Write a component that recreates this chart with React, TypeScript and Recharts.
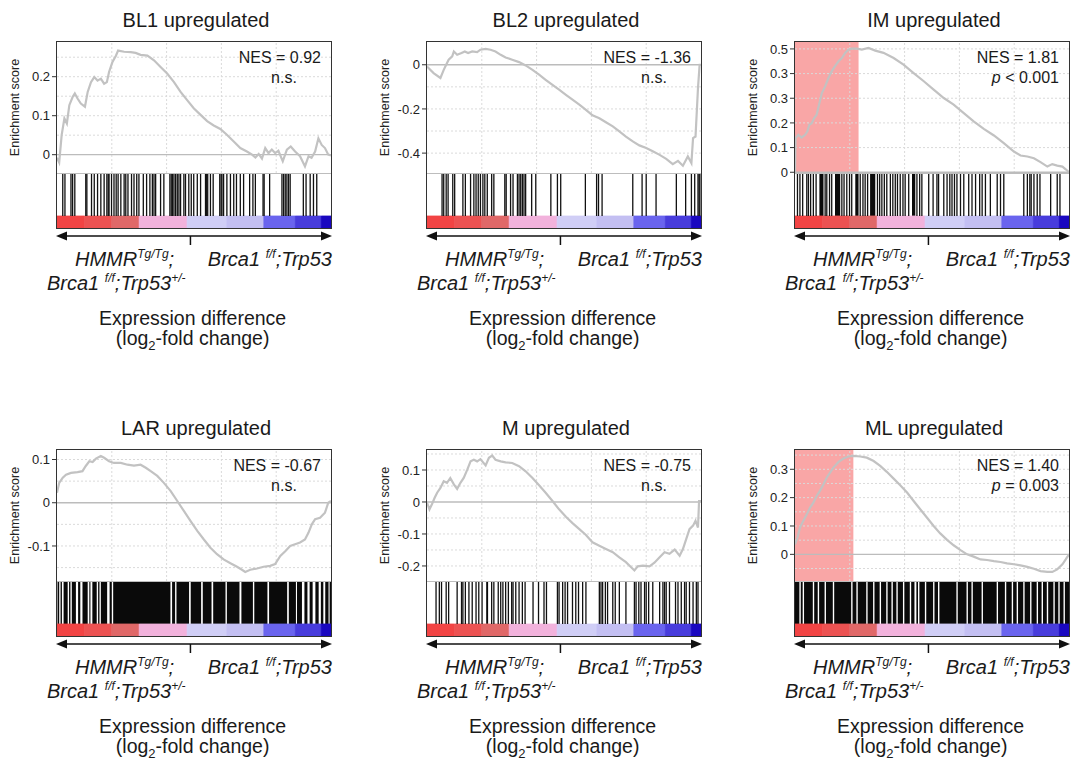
import React from "react";
import {
  ComposedChart,
  Line,
  XAxis,
  YAxis,
  ReferenceLine,
  ReferenceArea,
} from "recharts";

type Hit = number | [number, number];

// ---------- data (rank in % of the ranked gene list, enrichment score) ----------
const titles = [
  "BL1 upregulated",
  "BL2 upregulated",
  "IM upregulated",
  "LAR upregulated",
  "M upregulated",
  "ML upregulated",
];
const nesLabels = ["NES = 0.92", "NES = -1.36", "NES = 1.81", "NES = -0.67", "NES = -0.75", "NES = 1.40"];
const sigLabels = ["n.s.", "n.s.", "p < 0.001", "n.s.", "n.s.", "p = 0.003"];

const bl1Curve = [
  [0, -0.008], [0.8, -0.02], [1.7, 0.05], [2.7, 0.093], [3.6, 0.08], [4.5, 0.127], [5.7, 0.148],
  [6.5, 0.157], [7.5, 0.144], [8.7, 0.131], [10.2, 0.123], [11.2, 0.161], [12.4, 0.186], [13.6, 0.199],
  [14.8, 0.19], [16, 0.195], [17.2, 0.182], [18.2, 0.186], [19, 0.212], [20.2, 0.237], [21.5, 0.254],
  [22.3, 0.267], [24.5, 0.264], [26.9, 0.263], [28.7, 0.261], [30.5, 0.256], [33, 0.254], [35.4, 0.242],
  [37.8, 0.225], [40.2, 0.208], [42.7, 0.186], [45.1, 0.161], [47.5, 0.14], [49.9, 0.119], [52.4, 0.102],
  [54.8, 0.086], [57.2, 0.075], [59.6, 0.066], [62, 0.051], [64.5, 0.034], [66.9, 0.017], [69.3, 0.008],
  [71.2, 0], [72.4, -0.007], [73.6, 0.002], [74.8, -0.01], [76, 0.017], [77.2, 0.004], [78.4, 0.013],
  [79.6, 0.004], [80.8, 0.01], [82.4, -0.017], [83.9, 0.013], [85.3, 0.021], [86.9, 0.008], [88.7, -0.004],
  [90.5, -0.03], [91.8, -0.004], [92.9, -0.008], [94.2, 0.008], [95.4, 0.042], [96.6, 0.025], [97.8, 0.017],
  [99, 0], [100, -0.002],
];
const bl2Curve = [
  [0, -0.008], [2.4, -0.038], [4.9, -0.06], [6.1, -0.023], [7, 0], [7.9, 0.023], [9.2, 0.038], [9.8, 0.06],
  [11, 0.045], [12.6, 0.053], [13.8, 0.06], [15, 0.053], [16.5, 0.06], [18.3, 0.057], [19.5, 0.068],
  [21.4, 0.072], [23.2, 0.068], [25, 0.06], [26.9, 0.045], [28.7, 0.033], [31.1, 0.023], [33.6, 0.012],
  [36, -0.003], [38.5, -0.023], [40.9, -0.045], [43.3, -0.068], [45.8, -0.091], [48.2, -0.113],
  [50.7, -0.136], [53.1, -0.158], [55.6, -0.181], [58, -0.204], [60.4, -0.229], [62.9, -0.242],
  [65.3, -0.26], [67.8, -0.279], [70.2, -0.302], [72.6, -0.325], [75.1, -0.347], [77.5, -0.365],
  [80, -0.377], [82.4, -0.392], [84.9, -0.408], [87.3, -0.426], [89.7, -0.45], [91.6, -0.435],
  [93.4, -0.457], [95.2, -0.415], [96.5, -0.445], [97.1, -0.332], [98, -0.325], [98.9, -0.106],
  [99.5, 0], [100, 0],
];
const imCurve = [
  [0, 0], [0.2, 0.138], [1.2, 0.152], [2.4, 0.141], [3.7, 0.152], [4.5, 0.165], [5.2, 0.192], [6.1, 0.199],
  [7, 0.22], [7.9, 0.233], [8.9, 0.28], [9.8, 0.321], [11, 0.348], [12.2, 0.382], [13.4, 0.409],
  [14.6, 0.43], [15.9, 0.45], [17.1, 0.463], [18.3, 0.484], [19.5, 0.497], [20.7, 0.501], [22.6, 0.501],
  [24.4, 0.497], [26.8, 0.504], [29.3, 0.493], [32.3, 0.484], [36, 0.463], [39.6, 0.436], [43.3, 0.402],
  [47, 0.369], [50.6, 0.335], [54.3, 0.301], [57.9, 0.274], [61.6, 0.24], [65.2, 0.206], [68.9, 0.176],
  [72.6, 0.149], [76.2, 0.118], [79.9, 0.084], [82.3, 0.068], [84.8, 0.064], [87.2, 0.057], [89.6, 0.041],
  [92.1, 0.023], [93.9, 0.033], [95.7, 0.027], [97.6, 0.023], [98.8, 0.012], [100, 0],
];
const larCurve = [
  [0, 0.023], [0.8, 0.046], [2.1, 0.058], [3.3, 0.065], [5.1, 0.069], [7.5, 0.071], [9.3, 0.073],
  [10.5, 0.085], [11.8, 0.096], [13, 0.094], [14.2, 0.102], [16, 0.108], [17.2, 0.104], [19, 0.096],
  [20.8, 0.092], [23.3, 0.092], [25.7, 0.088], [28.1, 0.086], [30.5, 0.088], [32.4, 0.081], [34.2, 0.073],
  [36.6, 0.062], [39, 0.046], [41.5, 0.027], [43.9, 0.004], [46.3, -0.019], [48.7, -0.042], [51.2, -0.065],
  [53.6, -0.085], [56, -0.104], [58.4, -0.119], [60.8, -0.131], [63.3, -0.14], [65.7, -0.148],
  [67.5, -0.155], [68.7, -0.16], [70.5, -0.155], [73, -0.152], [75.4, -0.148], [77.8, -0.146],
  [79.6, -0.142], [81.5, -0.123], [83.3, -0.112], [85.1, -0.1], [86.9, -0.096], [88.7, -0.092],
  [90.5, -0.085], [91.8, -0.069], [93, -0.05], [94.2, -0.038], [96, -0.035], [97.8, -0.023], [99, 0],
  [100, 0.004],
];
const mCurve = [
  [0, -0.002], [0.9, -0.023], [1.8, -0.007], [2.8, 0.013], [3.7, 0.029], [4.9, 0.044], [6.1, 0.065],
  [7.3, 0.06], [8.5, 0.075], [9.8, 0.055], [11, 0.041], [12.2, 0.06], [13.4, 0.075], [14.7, 0.101],
  [15.9, 0.127], [17.1, 0.132], [18.3, 0.127], [19.5, 0.134], [21.4, 0.114], [22.6, 0.138], [23.8, 0.145],
  [25, 0.132], [26.9, 0.127], [28.7, 0.124], [31.1, 0.122], [33.6, 0.112], [36, 0.096], [38.5, 0.075],
  [40.9, 0.052], [43.3, 0.029], [45.8, 0.003], [48.2, -0.023], [50.7, -0.046], [53.1, -0.066],
  [55.6, -0.085], [58, -0.103], [60.4, -0.126], [62.9, -0.137], [65.3, -0.147], [67.8, -0.157],
  [70.2, -0.173], [72.6, -0.188], [74.5, -0.204], [75.7, -0.214], [76.9, -0.201], [78.8, -0.199],
  [81.2, -0.201], [83, -0.19], [84.9, -0.173], [86.7, -0.157], [88.5, -0.162], [90.4, -0.149],
  [92.2, -0.168], [93.4, -0.147], [94.6, -0.116], [95.8, -0.085], [97.1, -0.074], [98, -0.059],
  [98.9, -0.08], [99.3, 0.003], [100, 0.003],
];
const mlCurve = [
  [0, 0.035], [0.9, 0.059], [1.8, 0.094], [3, 0.118], [4.3, 0.141], [5.5, 0.165], [6.7, 0.182], [7.9, 0.206],
  [9.1, 0.224], [10.4, 0.247], [11.6, 0.271], [12.8, 0.288], [14, 0.306], [15.9, 0.326], [17.7, 0.338],
  [19.5, 0.345], [21.3, 0.347], [23.8, 0.345], [26.2, 0.341], [28.7, 0.329], [31.1, 0.312], [33.5, 0.291],
  [36, 0.267], [38.4, 0.244], [40.9, 0.218], [43.3, 0.188], [45.7, 0.159], [48.2, 0.129], [50.6, 0.1],
  [53, 0.074], [55.5, 0.051], [57.9, 0.032], [60.4, 0.015], [62.8, 0], [65.2, -0.008], [67.7, -0.018],
  [70.1, -0.02], [72.6, -0.024], [75, -0.027], [77.4, -0.032], [79.9, -0.035], [82.3, -0.039],
  [84.8, -0.044], [87.2, -0.051], [89.6, -0.059], [92.1, -0.062], [93.9, -0.062], [95.7, -0.053],
  [97.6, -0.035], [98.8, -0.018], [100, 0],
];

// gene-set members along the ranked list (single hits, or [from, to] runs of hits)
const bl1Hits: Hit[] = [
  2.1, 2.9, 5.1, 5.7, 6.5, 10.5, 10.9, 12.6, 13.6, 14.8, 16, 17.2, 18.2, 18.7, 19, 19.9, 20.8, 21.6, 22.3,
  23.3, 24.5, 25.1, 25.9, 27.2, 28.1, 29.1, 29.9, 31.5, 32.7, 33.9, 34.8, 35.4, 36, 37.8, 39, 41.2, 41.7,
  42.2, 42.7, 43.3, 43.9, 44.5, 45.1, 46.3, 46.9, 48.1, 49, 49.9, 51.2, 52.4, 54.2, 54.5, 55, 56, 57, 59.4,
  59.9, 60.2, 60.8, 62, 63.3, 64.5, 65.5, 66.9, 68.1, 70.3, 71.5, 72.4, 75.2, 75.6, 77.6, 82.1, 82.7, 83.3,
  83.9, 84.5, 85.1, 89.9, 90.9, 92.4, 93.6, 94.8,
];
const bl2Hits: Hit[] = [
  5.5, 6.1, 7, 7.7, 9.4, 10.1, 13.1, 14, 15.9, 17.1, 17.9, 18.7, 19.5, 20.4, 21.1, 22, 23.6, 24.4, 28.4,
  28.9, 30.5, 31.4, 33, 33.6, 34.2, 34.8, 35.4, 36, 38.2, 39.7, 45.2, 47.6, 48.8, 57.8, 61.9, 62.6, 63.9,
  75.1, 78.5, 80, 83.6, 91, 94.4, 96.5, 97.7, 98.9, 99.3, 99.6,
];
const imHits: Hit[] = [
  0.9, 1.8, 2.8, 4.3, 4.9, 5.7, 6.7, 7.7, [8.9, 10.4], 11, 11.6, 12.6, 13.4, [14.6, 16.5], 17.1, 17.9, 18.9,
  19.9, 20.7, [22, 23.2], 23.8, 24.8, 25.6, 26.5, [27.4, 29.3], 30.1, 30.9, 31.7, 32.6, 33.5, 34.8, 35.7,
  36.6, 37.4, 38.4, 39.4, 40.2, 41.5, [42.7, 43.9], 44.5, 45.5, 46.3, 48.8, 50.4, 51.8, 52.4, 54.3, 55.5,
  56.5, 57.3, 58.2, 59.1, 60.4, 61.6, 63.4, 64.6, 65.9, 67.4, 68.3, 69.5, 71.3, 73.8, 75, 76.2, 83.5, 84.8,
  85.7, 86.2, 87.2, 88.4, 89.4, 93.3, 95.7, 96.7,
];
const larHits: Hit[] = [
  [0.2, 0.8], [1.3, 1.8], [2.4, 3.9], [4.4, 4.9], [5.4, 6.9], [7.7, 8.5], [9.3, 11.2], [11.8, 12.2],
  [12.9, 14.5], [15, 15.5], [16, 18.3], [19.2, 20], [20.5, 41.4], [42, 43.1], [43.6, 48.2], [48.8, 52.6],
  [53.2, 56.4], [57, 61.5], [62, 66.6], [67.3, 71.5], [72, 76.8], [77.4, 84], [84.6, 87.2], [87.6, 89.4],
  [90.3, 91.4], [92.2, 93.3], [94.3, 95.5], [96.3, 97.2], [97.9, 99.1], [99.5, 100],
];
const mHits: Hit[] = [
  3.3, 4.5, 5.3, 7, 7.9, 11, 12.6, 13.1, 14, 15.3, 16.5, 17.9, 18.9, 20.1, [21.6, 22.3], 23.6, 24.4, 26,
  26.9, 27.7, 28.7, 29.7, 30.9, 31.4, 32.4, 33.6, 34.8, 35.8, 38.7, 40.7, 42.7, 43.6, 47.6, 48.2, 49.5,
  50.4, 51.3, 53.1, 54.3, 55.3, 56.8, 58, 62.9, 63.5, 64.1, 65.1, 65.9, 67.8, 68.7, 70.2, 72.6, 75.7, 76.3,
  77.3, 78.1, 79.4, 80, 80.9, 82.4, 84.9, 86.1, 86.7, 87.3, 88.5, 90.7, 91.6, 92.8, 94, 94.6, 95.8, 97.1,
  98.3, 98.9,
];
const mlHits: Hit[] = [
  [0, 1.6], [2.1, 2.8], [3.3, 6.5], [7, 8.3], [8.8, 10.8], [11.3, 13.8], [14.3, 20.5], [21, 22.4],
  [22.9, 26], [26.5, 28.5], [29, 30.9], [31.4, 33.3], [33.8, 35.2], [35.7, 37], [37.5, 39.4], [39.9, 41.9],
  [42.4, 43.6], [44.3, 44.9], [45.4, 47.4], [47.9, 50.4], [50.9, 52.2], [52.7, 58.9], [59.4, 62.6],
  [63.1, 64.4], [64.9, 68.1], [68.6, 73.6], [74.1, 76.6], [77.1, 79.1], [79.6, 80.9], [81.4, 83.3],
  [83.8, 85.8], [86.3, 88.2], [88.7, 90], [90.5, 91.9], [92.4, 94.3], [94.8, 96.1], [96.6, 98], [98.5, 100],
];

// y axes
const bl1Ticks = [0, 0.1, 0.2];
const bl2Ticks = [-0.4, -0.2, 0];
const imTicks = [0, 0.1, 0.2, 0.3, 0.4, 0.5];
const imTickLabels = ["0", "0.1", "0.2", "0.3", "0.3", "0.5"];
const larTicks = [-0.1, 0, 0.1];
const mTicks = [-0.2, -0.1, 0, 0.1];
const mlTicks = [0, 0.1, 0.2, 0.3];

const bl1Grid = [-0.05, 0.05, 0.1, 0.15, 0.2, 0.25];
const bl2Grid = [-0.1, -0.2, -0.3, -0.4];
const imGrid = [0.1, 0.2, 0.3, 0.4, 0.5];
const larGrid = [-0.15, -0.1, -0.05, 0.05, 0.1];
const mGrid = [-0.2, -0.15, -0.1, -0.05, 0.05, 0.1, 0.15];
const mlGrid = [-0.05, 0.05, 0.1, 0.15, 0.2, 0.25, 0.3, 0.35];

// leading edge (rank %) for the significant sets
const imLeadingEdge = 23.2;
const mlLeadingEdge = 21.3;

// ranked-list colour bar: band edges in rank %
const bandEdges = [0, 10, 20, 30, 47.5, 62, 75.5, 87, 96.5, 100];

// ---------- styles / layout ----------
const FONT = '"Liberation Sans", Arial, Helvetica, sans-serif';
const BAND_COLORS = ["#f24444", "#ec5252", "#e06868", "#f2b2dc", "#d0cef6", "#c3bff2", "#6a64ee", "#483cdc", "#1a08c0"];
const BOX_W = 274;
const ES_H = 131;
const STRIP_H = 55;
const BAR_FRAC = 12 / 55;
const AXIS_W = 57;
const GRID_X = [20, 40, 60, 80];
const BOXES = [
  { left: 57, top: 42 },
  { left: 427, top: 42 },
  { left: 795, top: 42 },
  { left: 57, top: 450 },
  { left: 427, top: 450 },
  { left: 795, top: 450 },
];

const panels = [
  { curve: bl1Curve, hits: bl1Hits, domain: [-0.047, 0.289], ticks: bl1Ticks, labels: null, grid: bl1Grid, edge: null },
  { curve: bl2Curve, hits: bl2Hits, domain: [-0.49, 0.103], ticks: bl2Ticks, labels: null, grid: bl2Grid, edge: null },
  { curve: imCurve, hits: imHits, domain: [-0.003, 0.528], ticks: imTicks, labels: imTickLabels, grid: imGrid, edge: imLeadingEdge },
  { curve: larCurve, hits: larHits, domain: [-0.181, 0.122], ticks: larTicks, labels: null, grid: larGrid, edge: null },
  { curve: mCurve, hits: mHits, domain: [-0.247, 0.1625], ticks: mTicks, labels: null, grid: mGrid, edge: null },
  { curve: mlCurve, hits: mlHits, domain: [-0.094, 0.368], ticks: mlTicks, labels: null, grid: mlGrid, edge: mlLeadingEdge },
];

const stripData = [
  { x: 0, y: 0 },
  { x: 100, y: 1 },
];

const fmt = (v: number) => (v === 0 ? "0" : String(v));

function GseaPanel({ idx }: { idx: number }) {
  const p = panels[idx];
  const { left, top } = BOXES[idx];
  const data = p.curve.map(([x, es]) => ({ x, es }));
  const [lo, hi] = p.domain;

  return (
    <>
      <div style={{ position: "absolute", left: left - AXIS_W, top }}>
        <ComposedChart
          width={BOX_W + AXIS_W}
          height={ES_H}
          data={data}
          margin={{ top: 0, right: 0, bottom: 0, left: 0 }}
        >
          <XAxis dataKey="x" type="number" domain={[0, 100]} hide allowDataOverflow />
          <YAxis
            type="number"
            domain={[lo, hi]}
            allowDataOverflow
            ticks={p.ticks}
            interval={0}
            width={AXIS_W}
            axisLine={false}
            tickSize={5}
            tickLine={{ stroke: "#333" }}
            tick={{ fontSize: 13, fill: "#222", fontFamily: FONT }}
            tickFormatter={(v: number) =>
              p.labels ? p.labels[p.ticks.indexOf(v)] : fmt(v)
            }
            label={{
              value: "Enrichment score",
              angle: -90,
              position: "insideLeft",
              offset: 15,
              style: { textAnchor: "middle", fontSize: 12.5, fill: "#222", fontFamily: FONT },
            }}
          />
          {p.grid.map((v) => (
            <ReferenceLine key={"gy" + v} y={v} stroke="#dadada" strokeDasharray="2 2" />
          ))}
          {GRID_X.map((v) => (
            <ReferenceLine key={"gx" + v} x={v} stroke="#dadada" strokeDasharray="2 2" />
          ))}
          <ReferenceLine y={0} stroke="#bcbcbc" strokeWidth={1.3} />
          {p.edge != null && (
            <ReferenceArea
              x1={0}
              x2={p.edge}
              y1={lo}
              y2={hi}
              fill="#f9a6a6"
              fillOpacity={1}
              stroke="none"
            />
          )}
          <Line
            dataKey="es"
            type="linear"
            stroke="#c2c2c2"
            strokeWidth={2.2}
            dot={false}
            isAnimationActive={false}
          />
        </ComposedChart>
      </div>

      <div style={{ position: "absolute", left, top: top + ES_H }}>
        <ComposedChart
          width={BOX_W}
          height={STRIP_H}
          data={stripData}
          margin={{ top: 0, right: 0, bottom: 0, left: 0 }}
        >
          <XAxis dataKey="x" type="number" domain={[0, 100]} hide />
          <YAxis type="number" domain={[0, 1]} hide />
          <Line dataKey="y" stroke="none" dot={false} isAnimationActive={false} />
          {p.hits.map((h, i) =>
            typeof h === "number" ? (
              <ReferenceLine
                key={"h" + i}
                segment={[
                  { x: h, y: BAR_FRAC },
                  { x: h, y: 1 },
                ]}
                stroke="#111"
                strokeWidth={1.3}
              />
            ) : (
              <ReferenceArea
                key={"h" + i}
                x1={h[0]}
                x2={h[1]}
                y1={BAR_FRAC}
                y2={1}
                fill="#0a0a0a"
                fillOpacity={1}
                stroke="none"
              />
            )
          )}
          {BAND_COLORS.map((c, i) => (
            <ReferenceArea
              key={"b" + i}
              x1={bandEdges[i]}
              x2={bandEdges[i + 1]}
              y1={0}
              y2={BAR_FRAC}
              fill={c}
              fillOpacity={1}
              stroke={c}
              strokeWidth={0.8}
            />
          ))}
        </ComposedChart>
      </div>

      {/* separator and frame */}
      <div
        style={{
          position: "absolute",
          left,
          top: top + ES_H,
          width: BOX_W,
          height: 1,
          background: "#bdbdbd",
        }}
      />
      <div
        style={{
          position: "absolute",
          left: left - 1,
          top: top - 1,
          width: BOX_W + 2,
          height: ES_H + STRIP_H + 2,
          border: "1.5px solid #333",
          boxSizing: "border-box",
        }}
      />
    </>
  );
}

function PanelText({ idx }: { idx: number }) {
  const { left, top } = BOXES[idx];
  const right = left + BOX_W;
  const bottom = top + ES_H + STRIP_H;
  const sig = sigLabels[idx];
  const ay = bottom + 8;
  const tx = left + BOX_W * 0.487;
  const isP = sig.startsWith("p");
  return (
    <g fontFamily={FONT} fill="#1a1a1a">
      <text x={left + BOX_W / 2 + 2} y={top - 15} fontSize={20} textAnchor="middle">
        {titles[idx]}
      </text>
      <text x={right - 10} y={top + 21} fontSize={16} textAnchor="end">
        {nesLabels[idx]}
      </text>
      {isP ? (
        <text x={right - 10} y={top + 41} fontSize={16} textAnchor="end">
          <tspan fontStyle="italic">p</tspan>
          {sig.slice(1)}
        </text>
      ) : (
        <text x={right - 47} y={top + 41} fontSize={16} textAnchor="middle">
          {sig}
        </text>
      )}
      <line x1={left + 7} x2={right - 7} y1={ay} y2={ay} stroke="#111" strokeWidth={1.5} />
      <polygon points={`${left - 1},${ay} ${left + 10},${ay - 4.5} ${left + 10},${ay + 4.5}`} fill="#111" />
      <polygon points={`${right + 1},${ay} ${right - 10},${ay - 4.5} ${right - 10},${ay + 4.5}`} fill="#111" />
      <line x1={tx} x2={tx} y1={ay} y2={ay + 9} stroke="#111" strokeWidth={1.5} />
      <text x={left + 18} y={bottom + 38} fontSize={20} fontStyle="italic">
        HMMR
        <tspan dy={-8} fontSize={12}>Tg/Tg</tspan>
        <tspan dy={8}>;</tspan>
      </text>
      <text x={right + 1} y={bottom + 38} fontSize={20} fontStyle="italic" textAnchor="end">
        Brca1{" "}
        <tspan dy={-8} fontSize={12}>f/f</tspan>
        <tspan dy={8}>;Trp53</tspan>
      </text>
      <text x={left - 10} y={bottom + 62} fontSize={20} fontStyle="italic">
        Brca1{" "}
        <tspan dy={-8} fontSize={12}>f/f</tspan>
        <tspan dy={8}>;Trp53</tspan>
        <tspan dy={-8} fontSize={12}>+/-</tspan>
      </text>
      <text x={left + BOX_W * 0.495} y={bottom + 97} fontSize={19.5} textAnchor="middle">
        Expression difference
      </text>
      <text x={left + BOX_W * 0.495} y={bottom + 117} fontSize={19.5} textAnchor="middle">
        (log
        <tspan dy={5} fontSize={13}>2</tspan>
        <tspan dy={-5}>-fold change)</tspan>
      </text>
    </g>
  );
}

export default function App() {
  return (
    <div
      style={{
        position: "fixed",
        left: 0,
        top: 0,
        width: 1078,
        height: 760,
        background: "#fff",
        fontFamily: FONT,
        overflow: "hidden",
      }}
    >
      <style>{`html,body{margin:0;padding:0;overflow:hidden}.recharts-surface{overflow:visible}`}</style>
      {panels.map((_, i) => (
        <GseaPanel key={i} idx={i} />
      ))}
      <svg
        width={1078}
        height={760}
        style={{ position: "absolute", left: 0, top: 0, pointerEvents: "none" }}
      >
        {panels.map((_, i) => (
          <PanelText key={i} idx={i} />
        ))}
      </svg>
    </div>
  );
}
